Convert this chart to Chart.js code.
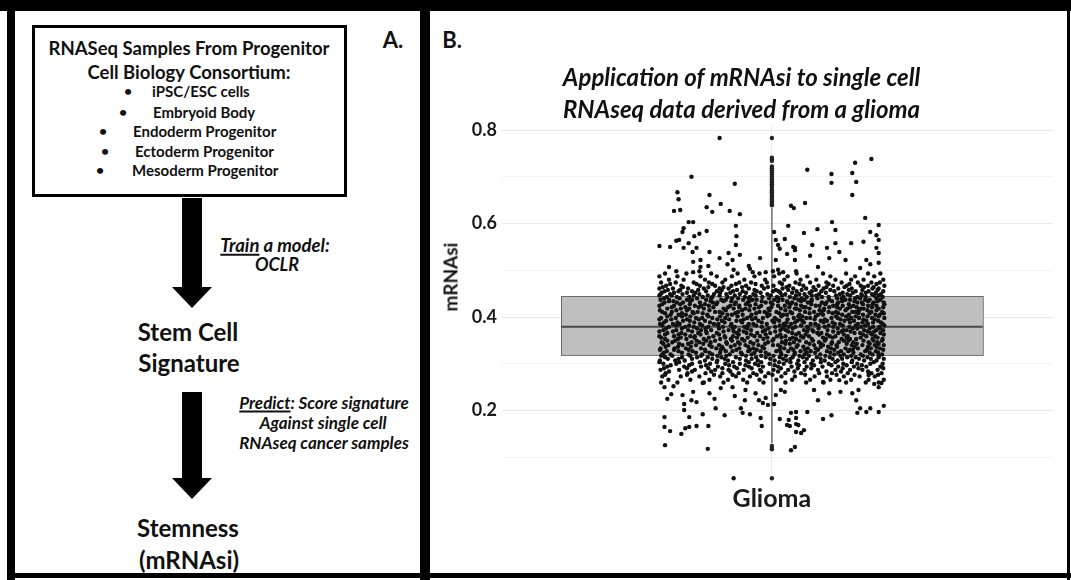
<!DOCTYPE html>
<html>
<head>
<meta charset="utf-8">
<script src="https://cdn.jsdelivr.net/npm/chart.js@4.4.1/dist/chart.umd.min.js"></script>
<style>
  html, body { margin: 0; padding: 0; background: #fff; }
  #page { position: relative; width: 1071px; height: 580px; overflow: hidden; background: #fff;
          font-family: Lato, "Open Sans", sans-serif; color: #111; }
  .bar { position: absolute; background: #000; }
  .t { position: absolute; white-space: nowrap; font-weight: 700; line-height: 1; transform: translate(-50%, -50%); }
  .l { position: absolute; white-space: nowrap; font-weight: 700; line-height: 1; transform: translate(0, -50%); }
  .it { font-style: italic; }
  .box { position: absolute; left: 32px; top: 25px; width: 309px; height: 166px; border: 3px solid #000; }
  .shaft { position: absolute; width: 20px; background: #000; }
  .head { position: absolute; width: 0; height: 0; border-left: 20px solid transparent;
          border-right: 20px solid transparent; border-top: 21px solid #000; }
  u { text-decoration-thickness: 1.5px; text-underline-offset: 2px; }
  #plotWrap { position: absolute; left: 430px; top: 12px; width: 636px; height: 562px; }
</style>
</head>
<body>
<div id="page">
  <!-- frame -->
  <div class="bar" style="left:0;top:0;width:1071px;height:11px"></div>
  <div class="bar" style="left:7px;top:0;width:8px;height:580px"></div>
  <div class="bar" style="left:420px;top:0;width:10px;height:580px"></div>
  <div class="bar" style="left:1067px;top:0;width:3px;height:580px"></div>
  <div class="bar" style="left:7px;top:573px;width:1064px;height:5px"></div>

  <!-- panel A: workflow -->
  <div class="box"></div>
  <div class="t" style="left:189px;top:48px;font-size:18.5px">RNASeq Samples From Progenitor</div>
  <div class="t" style="left:189px;top:72px;font-size:18.5px">Cell Biology Consortium:</div>
  <div class="t" style="left:128px;top:91px;font-size:14px">•</div>
  <div class="l" style="left:152px;top:91px;font-size:15px">iPSC/ESC cells</div>
  <div class="t" style="left:123px;top:112px;font-size:14px">•</div>
  <div class="l" style="left:153px;top:112px;font-size:15px">Embryoid Body</div>
  <div class="t" style="left:103px;top:131px;font-size:14px">•</div>
  <div class="l" style="left:133px;top:131px;font-size:15px">Endoderm Progenitor</div>
  <div class="t" style="left:105px;top:151px;font-size:14px">•</div>
  <div class="l" style="left:135px;top:151px;font-size:15px">Ectoderm Progenitor</div>
  <div class="t" style="left:100px;top:170px;font-size:14px">•</div>
  <div class="l" style="left:132px;top:170px;font-size:15px">Mesoderm Progenitor</div>
  <div class="t" style="left:393px;top:40px;font-size:22px">A.</div>

  <div class="shaft" style="left:182px;top:198px;height:90px"></div>
  <div class="head" style="left:172px;top:287px"></div>
  <div class="t it" style="left:275px;top:245px;font-size:18.5px"><u>Train</u> a model:</div>
  <div class="t it" style="left:277px;top:264px;font-size:18px">OCLR</div>
  <div class="t" style="left:188px;top:332px;font-size:24px">Stem Cell</div>
  <div class="t" style="left:189px;top:363px;font-size:24px">Signature</div>

  <div class="shaft" style="left:182px;top:392px;height:87px"></div>
  <div class="head" style="left:172px;top:478px"></div>
  <div class="t it" style="left:324px;top:402px;font-size:17px"><u>Predict</u>: Score signature</div>
  <div class="t it" style="left:323px;top:422px;font-size:17px">Against single cell</div>
  <div class="t it" style="left:324px;top:442px;font-size:17px">RNAseq cancer samples</div>
  <div class="t" style="left:188px;top:528px;font-size:24px">Stemness</div>
  <div class="t" style="left:189px;top:560px;font-size:24px">(mRNAsi)</div>

  <!-- panel B: chart -->
  <div class="t" style="left:452px;top:40px;font-size:22px">B.</div>
  <div id="plotWrap"><canvas id="plot" width="636" height="562"></canvas></div>
  <div class="t" style="left:450px;top:277px;font-size:19px;transform:translate(-50%,-50%) rotate(-90deg)">mRNAsi</div>
</div>

<script>
// Category on the x axis and the chart title
const categories = ['Glioma'];
const titleLines = ['Application of mRNAsi to single cell', 'RNAseq data derived from a glioma'];

// y axis: gridlines every 0.1, labels on the even tenths
const gridValues = [0.1, 0.2, 0.3, 0.4, 0.5, 0.6, 0.7, 0.8];
const labeledTicks = [0.2, 0.4, 0.6, 0.8];

// Boxplot summary: lower quartile, median, upper quartile; whisker ends
const boxQuartiles = [0.319, 0.379, 0.445];
const whiskerEnds = [0.130, 0.633];
// Values beyond the whiskers, drawn on the centre line
const outlierValues = [0.783, 0.741, 0.737, 0.734, 0.722, 0.718, 0.714, 0.709, 0.705, 0.700,
  0.696, 0.692, 0.688, 0.684, 0.680, 0.676, 0.671, 0.667, 0.663, 0.659, 0.655, 0.651, 0.647,
  0.643, 0.639, 0.124, 0.120, 0.117, 0.055];

// Individual cells, jittered horizontally: [offset from category centre, mRNAsi]
const cellsHigh = [
  [-0.093, 0.783], [-0.143, 0.700], [-0.066, 0.685], [-0.168, 0.667], [-0.166, 0.652],
  [-0.111, 0.661], [-0.174, 0.627], [-0.163, 0.629], [-0.116, 0.635], [-0.106, 0.625],
  [-0.091, 0.642], [-0.075, 0.627], [-0.057, 0.620], [0.034, 0.638], [0.039, 0.633],
  [-0.148, 0.603], [-0.140, 0.603], [-0.157, 0.590], [-0.159, 0.582], [-0.064, 0.595],
  [0.029, 0.595], [-0.116, 0.584], [-0.129, 0.578], [-0.138, 0.573], [-0.165, 0.565],
  [-0.170, 0.563], [-0.063, 0.573], [0.004, 0.582], [0.023, 0.567], [0.007, 0.565],
  [-0.200, 0.552], [-0.181, 0.550], [-0.148, 0.558], [-0.064, 0.554], [0.011, 0.554],
  [0.038, 0.550], [0.063, 0.715], [0.106, 0.706], [0.106, 0.687], [0.143, 0.708],
  [0.148, 0.730], [0.150, 0.689], [0.143, 0.661], [0.177, 0.738], [0.059, 0.644],
  [0.166, 0.612], [0.190, 0.597], [0.107, 0.603], [0.081, 0.588], [0.057, 0.580],
  [0.113, 0.586], [0.175, 0.582], [0.186, 0.575], [0.190, 0.565], [0.163, 0.561],
  [0.113, 0.558], [0.141, 0.558], [0.072, 0.554], [0.098, 0.548], [0.120, 0.539],
  [0.186, 0.548], [0.190, 0.537], [0.041, 0.543], [0.068, 0.531], [0.102, 0.526],
  [0.131, 0.522], [0.168, 0.522], [0.175, 0.513], [0.082, 0.507], [0.157, 0.505],
  [0.190, 0.516], [-0.157, 0.548], [-0.141, 0.539], [-0.134, 0.548], [-0.111, 0.539],
  [-0.093, 0.526], [-0.077, 0.537], [-0.070, 0.522], [-0.057, 0.533], [-0.021, 0.526],
  [0.014, 0.546], [0.027, 0.535], [0.007, 0.522], [0.041, 0.548], [0.041, 0.522],
  [-0.140, 0.518], [-0.127, 0.522], [-0.183, 0.507], [-0.127, 0.507], [-0.113, 0.509],
  [-0.079, 0.513], [-0.041, 0.509], [-0.039, 0.503], [-0.170, 0.498], [-0.140, 0.496],
  [-0.129, 0.498], [-0.068, 0.501], [-0.034, 0.496], [-0.011, 0.496], [0.002, 0.498],
  [0.011, 0.501], [0.020, 0.496], [0.043, 0.498]
];

// Dense middle of the distribution, one row per mRNAsi level: [mRNAsi, [offsets]]
const cellsCore = [
  [0.493, [-.19, -.152, -.108, -.061, -.022, .013, .044, .091, .132, .171, .193]],
  [0.487, [-.2, -.168, -.127, -.098, -.071, -.031, .004, .028, .063, .104, .148, .182]],
  [0.480, [-.183, -.157, -.119, -.083, -.049, -.012, .022, .051, .079, .113, .141, .163, .198]],
  [0.474, [-.197, -.171, -.139, -.112, -.088, -.058, -.037, -.009, .014, .042, .068, .097, .124, .153, .177, .192]],
  [0.467, [-.188, -.161, -.128, -.101, -.072, -.046, -.018, .003, .031, .056, .083, .109, .133, .158, .171, .2]],
  [0.461, [-.2, -.176, -.149, -.121, -.093, -.077, -.041, -.014, .019, .038, .061, .092, .118, .142, .179, .19]],
  [0.455, [-.191, -.166, -.142, -.117, -.098, -.069, -.052, -.027, .002, .012, .044, .071, .088, .111, .149, .172, .198]],
  [0.449, [-.198, -.181, -.159, -.129, -.103, -.081, -.057, -.033, -.008, .024, .049, .058, .084, .121, .134, .159, .178, .194]],
  [0.443, [-.187, -.169, -.147, -.123, -.106, -.079, -.048, -.039, -.017, .009, .032, .062, .089, .101, .127, .152, .167, .197]],
  [0.437, [-.198, -.183, -.151, -.142, -.117, -.09, -.082, -.051, -.034, -.027, .004, .019, .047, .058, .071, .102, .131, .139, .166, .174, .193]],
  [0.431, [-.191, -.169, -.158, -.128, -.105, -.097, -.064, -.043, -.011, -.002, .028, .036, .064, .089, .097, .118, .152, .16, .181, .199]],
  [0.424, [-.2, -.174, -.137, -.126, -.112, -.074, -.058, -.039, -.019, .011, .023, .052, .078, .085, .109, .126, .145, .171, .186]],
  [0.418, [-.186, -.162, -.147, -.121, -.086, -.068, -.047, -.031, -.006, .016, .041, .044, .067, .093, .121, .134, .158, .163, .19]],
  [0.411, [-.195, -.178, -.141, -.132, -.101, -.093, -.06, -.022, -.013, .008, .033, .059, .075, .101, .114, .143, .149, .177, .196]],
  [0.405, [-.18, -.166, -.153, -.115, -.079, -.071, -.052, -.036, -.004, .02, .027, .049, .082, .091, .125, .137, .162, .184, .192]],
  [0.398, [-.197, -.171, -.135, -.124, -.106, -.083, -.044, -.029, -.016, .005, .039, .061, .068, .106, .117, .141, .155, .178, .2]],
  [0.392, [-.188, -.158, -.146, -.119, -.089, -.063, -.055, -.024, .001, .013, .045, .054, .087, .098, .129, .146, .168, .189]],
  [0.385, [-.199, -.176, -.164, -.128, -.103, -.095, -.072, -.041, -.033, -.009, .021, .034, .069, .077, .112, .121, .153, .171, .197]],
  [0.379, [-.183, -.154, -.139, -.113, -.087, -.066, -.049, -.018, .006, .03, .042, .063, .094, .109, .138, .159, .18, .191]],
  [0.372, [-.193, -.17, -.149, -.126, -.108, -.077, -.058, -.037, -.012, .015, .025, .057, .072, .099, .127, .133, .164, .186, .198]],
  [0.366, [-.186, -.161, -.131, -.116, -.098, -.062, -.045, -.026, -.003, .036, .048, .081, .088, .118, .147, .157, .175, .193]],
  [0.359, [-.2, -.174, -.145, -.137, -.104, -.084, -.069, -.031, -.021, .009, .024, .052, .066, .103, .113, .135, .168, .184]],
  [0.353, [-.19, -.167, -.152, -.121, -.092, -.073, -.053, -.015, .003, .032, .043, .071, .096, .124, .139, .15, .179, .197]],
  [0.346, [-.196, -.177, -.143, -.129, -.109, -.081, -.06, -.038, -.007, .018, .039, .061, .084, .107, .119, .145, .172, .188]],
  [0.340, [-.184, -.159, -.135, -.111, -.094, -.066, -.047, -.024, .002, .011, .046, .075, .091, .115, .142, .161, .183, .199]],
  [0.333, [-.198, -.173, -.153, -.126, -.099, -.087, -.058, -.033, -.014, .022, .034, .064, .078, .105, .131, .153, .176, .192]],
  [0.327, [-.187, -.166, -.141, -.118, -.082, -.07, -.042, -.02, .008, .029, .051, .069, .098, .123, .136, .166, .185]],
  [0.320, [-.195, -.18, -.148, -.124, -.106, -.075, -.053, -.036, -.005, .017, .04, .058, .086, .111, .128, .158, .179, .196]],
  [0.314, [-.19, -.16, -.133, -.114, -.09, -.064, -.028, -.011, .014, .037, .055, .08, .103, .134, .149, .17, .19]],
  [0.307, [-.199, -.172, -.155, -.119, -.097, -.078, -.046, -.025, .005, .026, .047, .073, .094, .117, .143, .164, .186]],
  [0.300, [-.193, -.17, -.142, -.11, -.083, -.057, -.03, -.004, .021, .045, .07, .101, .127, .152, .175, .197]],
  [0.294, [-.186, -.156, -.126, -.096, -.067, -.041, -.016, .011, .035, .062, .09, .118, .146, .168, .193]],
  [0.287, [-.198, -.165, -.137, -.101, -.077, -.05, -.021, .003, .029, .058, .082, .113, .139, .161, .188]],
  [0.280, [-.189, -.15, -.118, -.088, -.059, -.033, -.006, .024, .052, .084, .107, .135, .177, .195]],
  [0.273, [-.195, -.162, -.129, -.092, -.064, -.039, -.012, .017, .041, .076, .098, .128, .156, .183]],
  [0.266, [-.184, -.145, -.111, -.078, -.051, -.022, .008, .036, .068, .104, .141, .172, .199]],
  [0.260, [-.197, -.168, -.121, -.086, -.044, -.015, .024, .061, .092, .132, .167, .19]],
  // levels in between the rows above
  [0.4705, [-.181, -.134, -.106, -.064, -.029, .018, .049, .101, .138, .186]],
  [0.464, [-.194, -.158, -.113, -.086, -.053, -.007, .026, .074, .097, .129, .164, .181]],
  [0.458, [-.185, -.163, -.131, -.089, -.062, -.031, .007, .029, .053, .078, .104, .137, .161, .188]],
  [0.452, [-.196, -.174, -.151, -.136, -.092, -.074, -.046, -.02, .015, .036, .067, .096, .126, .144, .167, .185]],
  [0.446, [-.2, -.178, -.139, -.114, -.093, -.066, -.029, -.002, .018, .043, .071, .079, .114, .139, .16, .182, .19]],
  [0.440, [-.192, -.164, -.133, -.108, -.071, -.06, -.041, -.005, .012, .04, .053, .081, .116, .124, .148, .157, .186]],
  [0.434, [-.183, -.175, -.145, -.109, -.086, -.072, -.04, -.018, .011, .027, .052, .07, .107, .125, .147, .171, .188]],
  [0.4275, [-.195, -.163, -.146, -.119, -.099, -.066, -.046, -.029, .001, .033, .043, .07, .095, .116, .137, .162, .179, .2]],
  [0.421, [-.178, -.154, -.13, -.104, -.078, -.058, -.023, -.001, .031, .057, .06, .102, .116, .139, .151, .178, .198]],
  [0.4145, [-.199, -.17, -.151, -.111, -.082, -.053, -.04, -.004, .024, .05, .085, .092, .131, .155, .17, .186]],
  [0.408, [-.19, -.16, -.139, -.123, -.088, -.065, -.028, -.009, .013, .036, .067, .088, .108, .118, .154, .174, .199]],
  [0.4015, [-.186, -.16, -.145, -.113, -.092, -.061, -.038, -.008, .017, .047, .054, .078, .114, .132, .149, .17, .19]],
  [0.395, [-.2, -.179, -.151, -.13, -.097, -.076, -.05, -.035, .008, .028, .05, .076, .094, .122, .136, .163, .183]],
  [0.3885, [-.192, -.168, -.138, -.11, -.084, -.053, -.018, .004, .026, .041, .057, .092, .108, .139, .161, .18, .194]],
  [0.382, [-.195, -.17, -.147, -.124, -.096, -.073, -.043, -.028, .014, .023, .052, .083, .101, .126, .149, .166, .2]],
  [0.3755, [-.188, -.16, -.133, -.118, -.094, -.069, -.044, -.006, .02, .037, .065, .083, .117, .144, .152, .174, .192]],
  [0.369, [-.2, -.176, -.142, -.117, -.086, -.068, -.05, -.016, .006, .029, .063, .074, .109, .124, .14, .17, .182]],
  [0.3625, [-.19, -.166, -.154, -.127, -.094, -.059, -.037, -.011, .015, .043, .06, .084, .098, .128, .162, .178, .199]],
  [0.356, [-.197, -.162, -.138, -.112, -.083, -.062, -.043, -.008, .017, .037, .056, .091, .108, .133, .158, .188]],
  [0.3495, [-.186, -.172, -.134, -.117, -.101, -.071, -.049, -.026, .001, .025, .049, .073, .094, .128, .136, .163, .181, .196]],
  [0.343, [-.193, -.165, -.149, -.122, -.08, -.057, -.033, -.012, .024, .032, .067, .087, .106, .133, .151, .174, .19]],
  [0.3365, [-.189, -.167, -.144, -.107, -.089, -.073, -.042, -.017, .015, .044, .056, .087, .1, .116, .147, .171, .186]],
  [0.330, [-.199, -.174, -.148, -.119, -.091, -.063, -.039, -.027, .014, .038, .059, .082, .111, .139, .144, .169, .198]],
  [0.3235, [-.192, -.16, -.135, -.111, -.092, -.055, -.031, -.011, .016, .041, .062, .077, .104, .118, .145, .174, .189]],
  [0.317, [-.197, -.177, -.145, -.126, -.097, -.081, -.046, -.019, .003, .025, .049, .066, .095, .122, .141, .162, .19]],
  [0.3105, [-.185, -.166, -.142, -.106, -.084, -.057, -.036, -.003, .02, .033, .062, .087, .108, .125, .155, .176, .199]],
  [0.3035, [-.2, -.165, -.128, -.098, -.069, -.041, -.019, .013, .033, .058, .087, .113, .142, .181]],
  [0.297, [-.18, -.147, -.117, -.076, -.047, -.024, .005, .048, .075, .106, .133, .16]],
  [0.2905, [-.192, -.151, -.113, -.088, -.062, -.036, .016, .046, .07, .126, .154, .198]],
  [0.2835, [-.183, -.142, -.108, -.074, -.019, .011, .04, .097, .123, .171]],
  [0.2765, [-.19, -.151, -.103, -.07, -.027, .001, .059, .115, .147, .189]]
];

const cellsLow = [
  [-0.191, 0.250], [-0.175, 0.252], [-0.159, 0.233], [-0.186, 0.225], [-0.179, 0.235],
  [-0.140, 0.240], [-0.143, 0.222], [-0.134, 0.218], [-0.156, 0.214], [-0.111, 0.237],
  [-0.102, 0.225], [-0.100, 0.205], [-0.123, 0.259], [-0.091, 0.248], [-0.070, 0.250],
  [-0.066, 0.231], [-0.048, 0.222], [-0.047, 0.244], [-0.055, 0.205], [-0.039, 0.192],
  [-0.029, 0.237], [-0.023, 0.222], [-0.016, 0.216], [-0.011, 0.227], [-0.007, 0.212],
  [0.004, 0.214], [0.007, 0.233], [0.016, 0.244], [0.023, 0.240], [-0.191, 0.186],
  [-0.156, 0.201], [-0.147, 0.186], [-0.123, 0.192], [-0.084, 0.190], [-0.052, 0.195],
  [-0.020, 0.184], [0.014, 0.182], [0.034, 0.195], [0.043, 0.184], [0.043, 0.171],
  [0.027, 0.169], [-0.191, 0.165], [-0.147, 0.165], [-0.113, 0.167], [-0.018, 0.167],
  [-0.181, 0.156], [-0.161, 0.150], [-0.154, 0.162], [-0.134, 0.167], [0.032, 0.167],
  [0.043, 0.154], [-0.190, 0.126], [-0.114, 0.118], [0.034, 0.115], [0.041, 0.122],
  [-0.068, 0.055], [0.052, 0.152], [0.057, 0.158], [0.047, 0.169], [0.150, 0.222],
  [0.157, 0.205], [0.168, 0.197], [0.175, 0.205], [0.190, 0.197], [0.199, 0.210],
  [0.152, 0.195], [0.106, 0.190], [0.091, 0.182], [0.082, 0.222], [0.102, 0.237],
  [0.122, 0.240], [0.075, 0.244], [0.143, 0.237], [0.154, 0.244], [0.182, 0.257],
  [0.190, 0.250], [0.195, 0.259], [0.172, 0.276], [0.120, 0.265], [0.091, 0.261],
  [0.030, 0.180], [0.043, 0.197], [0.063, 0.197]
];

// Box width in category units (drawing style, not data)
const BOX_HALF_WIDTH = 0.375;

const cellPoints = [];
cellsHigh.forEach(([x, y]) => cellPoints.push({ x, y }));
cellsCore.forEach(([y, xs]) => xs.forEach(x => cellPoints.push({ x, y })));
cellsLow.forEach(([x, y]) => cellPoints.push({ x, y }));
const outlierPoints = outlierValues.map(y => ({ x: 0, y }));

// Box, median and whiskers drawn underneath the points with the chart's own scales
const boxPlotLayer = {
  id: 'boxPlotLayer',
  beforeDatasetsDraw(chart) {
    const { ctx, scales: { x, y } } = chart;
    const [q1, med, q3] = boxQuartiles;
    const [lo, hi] = whiskerEnds;
    const xc = x.getPixelForValue(0);
    const xl = x.getPixelForValue(-BOX_HALF_WIDTH);
    const xr = x.getPixelForValue(BOX_HALF_WIDTH);
    const yq1 = y.getPixelForValue(q1), yq3 = y.getPixelForValue(q3), ym = y.getPixelForValue(med);
    ctx.save();
    ctx.strokeStyle = '#6f6f6f';
    ctx.lineWidth = 1.5;
    ctx.beginPath();
    ctx.moveTo(xc, y.getPixelForValue(hi)); ctx.lineTo(xc, yq3);
    ctx.moveTo(xc, yq1); ctx.lineTo(xc, y.getPixelForValue(lo));
    ctx.stroke();
    ctx.fillStyle = '#bfbfbf';
    ctx.fillRect(xl, yq3, xr - xl, yq1 - yq3);
    ctx.lineWidth = 1;
    ctx.strokeStyle = '#6a6a6a';
    ctx.strokeRect(xl + 0.5, yq3 + 0.5, xr - xl, yq1 - yq3);
    ctx.strokeStyle = '#4a4a4a';
    ctx.lineWidth = 2;
    ctx.beginPath();
    ctx.moveTo(xl, ym); ctx.lineTo(xr, ym);
    ctx.stroke();
    ctx.restore();
  }
};

const near = (a, b) => Math.abs(a - b) < 1e-6;

new Chart(document.getElementById('plot'), {
  type: 'scatter',
  data: {
    datasets: [
      { label: 'cells', data: cellPoints, pointRadius: 2.2, pointBackgroundColor: '#111',
        pointBorderWidth: 0, pointHoverRadius: 2.2 },
      { label: 'outliers', data: outlierPoints, pointRadius: 2.2, pointBackgroundColor: '#222',
        pointBorderWidth: 0, pointHoverRadius: 2.2 }
    ]
  },
  options: {
    responsive: false,
    animation: false,
    devicePixelRatio: 1,
    events: [],
    layout: { padding: { left: 0, right: 13, top: 0, bottom: 0 } },
    plugins: {
      legend: { display: false },
      tooltip: { enabled: false },
      title: {
        display: true,
        text: titleLines,
        color: '#111',
        font: { family: 'Lato', size: 24, weight: 'bold', style: 'italic', lineHeight: 32 / 24 },
        padding: { top: 50, bottom: 0 }
      }
    },
    scales: {
      x: {
        type: 'linear',
        min: -0.48,
        max: 0.5,
        afterBuildTicks: s => { s.ticks = [{ value: 0 }]; },
        afterFit: s => { s.height = 91; },
        ticks: {
          callback: () => categories[0],
          color: '#1a1a1a',
          font: { family: 'Lato', size: 25, weight: 'bold' },
          padding: 1,
          maxRotation: 0
        },
        grid: { color: '#ebebeb', lineWidth: 1, drawTicks: false },
        border: { display: false }
      },
      y: {
        min: 0.045,
        max: 0.8086,
        afterBuildTicks: s => { s.ticks = gridValues.map(v => ({ value: v })); },
        afterFit: s => { s.width = 72; },
        ticks: {
          callback: v => labeledTicks.some(t => near(t, v)) ? v.toFixed(1) : '',
          color: '#1a1a1a',
          font: { family: 'Lato', size: 18, weight: 'bold' },
          padding: 5
        },
        grid: {
          color: c => labeledTicks.some(t => near(t, c.tick.value)) ? '#e9e9e9' : '#f3f3f3',
          lineWidth: 1,
          drawTicks: false
        },
        border: { display: false }
      }
    }
  },
  plugins: [boxPlotLayer]
});
</script>
</body>
</html>
